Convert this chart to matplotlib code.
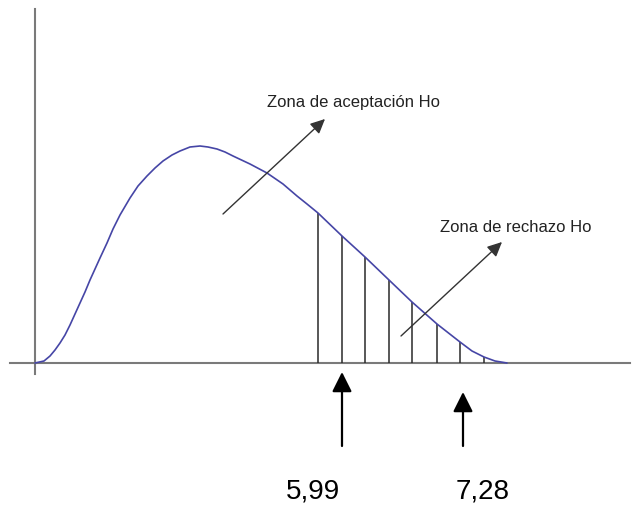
import matplotlib
matplotlib.use('Agg')
import matplotlib.pyplot as plt

plt.rcParams['font.family'] = ['Liberation Sans', 'DejaVu Sans']

# density curve (x along the axis, y = height)
curve_x = [0, 9, 15, 20, 25, 30, 35, 40, 45, 50, 55, 60, 65, 72, 78, 85,
           95, 103, 112, 120, 128, 137, 145, 155, 165, 173, 182, 190, 198,
           215, 232, 248, 262, 272, 283, 307, 330, 354, 377, 402, 425, 437,
           449, 460, 472]
curve_y = [0, 2, 7, 13, 20, 28, 38, 49, 60, 71, 83, 94, 105, 120, 134, 148,
           165, 177, 187, 195, 202, 208, 212, 216, 217, 216, 214, 211, 207,
           199, 190, 179, 167, 159, 150, 127, 106, 83, 61, 39, 21, 12,
           6, 2, 0]

# hatching of the rejection zone
hatch_x = [283, 307, 330, 354, 377, 402, 425, 449]
hatch_y = [150, 127, 106, 83, 61, 39, 21, 6]

# critical values and where they sit on the axis
crit_labels = ['5,99', '7,28']
crit_x = [307, 428]
crit_tip = [-9, -29]
label_x = [278, 448]

zone_labels = ['Zona de aceptación Ho', 'Zona de rechazo Ho']


def main():
    fig = plt.figure(figsize=(6.4, 5.1), dpi=100)
    ax = fig.add_axes([0, 0, 1, 1])
    ax.set_xlim(-35, 605)
    ax.set_ylim(-146, 364)
    ax.axis('off')

    # axes of the sketch
    ax.plot([-25, 595], [0, 0], color='#7a7a7a', lw=1.5, zorder=1)
    ax.plot([0, 0], [-11, 354], color='#7a7a7a', lw=1.5, zorder=1)

    ax.vlines(hatch_x, 0, hatch_y, color='#2a2a2a', lw=1.1, zorder=2)
    ax.plot(curve_x, curve_y, color='#4646a6', lw=1.2, zorder=3,
            solid_joinstyle='round', solid_capstyle='round')

    thin = dict(arrowstyle='-|>,head_length=0.8,head_width=0.38',
                mutation_scale=11, color='#333333', lw=1.0,
                shrinkA=0, shrinkB=0)
    ax.annotate('', xy=(290, 244), xytext=(188, 149), arrowprops=thin, zorder=4)
    ax.annotate('', xy=(467, 121), xytext=(366, 27), arrowprops=thin, zorder=4)
    ax.text(232, 262, zone_labels[0], fontsize=12, color='#222222', va='center')
    ax.text(405, 136, zone_labels[1], fontsize=12, color='#222222', va='center')

    thick = dict(arrowstyle='-|>,head_length=0.8,head_width=0.4',
                 mutation_scale=15, color='black', lw=1.6,
                 shrinkA=0, shrinkB=0)
    for x, tip, lx, lab in zip(crit_x, crit_tip, label_x, crit_labels):
        ax.annotate('', xy=(x, tip), xytext=(x, -83), arrowprops=thick)
        ax.text(lx, -128, lab, fontsize=20, ha='center', va='center',
                color='black')

    fig.savefig('out.png', dpi=100)


if __name__ == '__main__':
    main()
